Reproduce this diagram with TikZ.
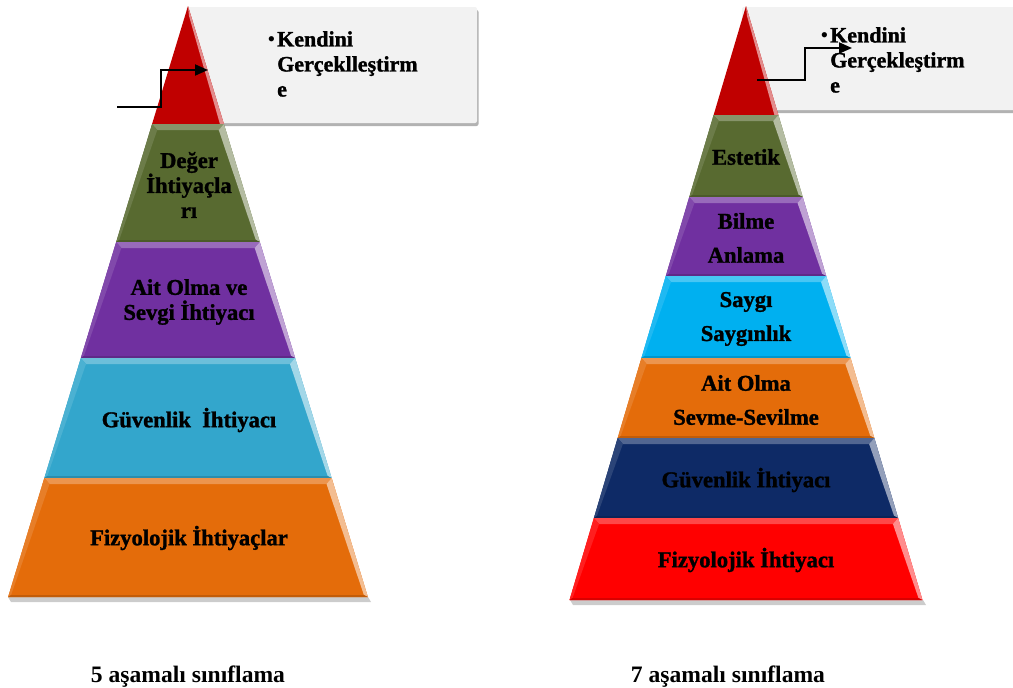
\documentclass[tikz,border=0pt]{standalone}
\usepackage{fontspec}
\setmainfont{Liberation Serif}
\newfontfamily\heavyserif{Liberation Serif}[BoldFeatures={FakeBold=1.3}]
\usetikzlibrary{arrows.meta,shadows}
\definecolor{boxgray}{HTML}{F2F2F2}
\definecolor{cRedTop}{HTML}{C00000}
\definecolor{cOlive}{HTML}{586A30}
\definecolor{cPurple}{HTML}{7030A0}
\definecolor{cTeal}{HTML}{33A6CC}
\definecolor{cOrange}{HTML}{E46C0A}
\definecolor{cCyan}{HTML}{00B0F0}
\definecolor{cNavy}{HTML}{0E2A66}
\definecolor{cRed}{HTML}{FF0000}
\tikzset{
  lbl/.style={font=\heavyserif\bfseries\fontsize{22.6}{25}\selectfont, align=center, text=black, inner sep=0pt},
  lblw/.style={font=\heavyserif\bfseries\fontsize{22.6}{34}\selectfont, align=center, text=black, inner sep=0pt},
  captxt/.style={font=\bfseries\fontsize{23.6}{26}\selectfont, inner sep=0pt, anchor=base},
  calltxt/.style={font=\heavyserif\bfseries\fontsize{22}{25}\selectfont, align=left, anchor=north west, inner sep=0pt},
  callbox/.style={fill=boxgray, rounded corners=2pt, drop shadow={shadow xshift=1.5pt, shadow yshift=-3pt, opacity=0.3, fill=black}},
  conn/.style={line width=1.8pt, -{Triangle[length=13pt,width=11pt]}},
  groundshadow/.style={fill=black, opacity=0.2},
}
% band of a pyramid: centre x, slope, apex y, top y, bottom y, colour
\newcommand{\pband}[6]{%
  \pgfmathsetmacro\pa{#2*(#4-#3)}%
  \pgfmathsetmacro\pb{#2*(#5-#3)}%
  \pgfmathsetmacro\pc{#2*(#4+6-#3)}%
  \fill[#6] ({#1-\pa},#4) -- ({#1+\pa},#4) -- ({#1+\pb},#5) -- ({#1-\pb},#5) -- cycle;
  \fill[#6!72!white] ({#1-\pa},#4) -- ({#1+\pa},#4) -- ({#1+\pc-7},#4+6) -- ({#1-\pc+7},#4+6) -- cycle;
  \fill[#6!88!white] ({#1-\pa},#4) -- ({#1-\pc+7},#4+6) -- ({#1-\pb+3},#5-2) -- ({#1-\pb},#5) -- cycle;
  \fill[#6!45!white] ({#1+\pa},#4) -- ({#1+\pb},#5) -- ({#1+\pb-4},#5-2) -- ({#1+\pc-7},#4+6) -- cycle;
  \fill[#6!85!black] ({#1-\pb},#5) -- ({#1+\pb},#5) -- ({#1+\pb-4},#5-2) -- ({#1-\pb+3},#5-2) -- cycle;
}
% top triangle: centre x, slope, apex y, bottom y, colour
\newcommand{\ptri}[5]{%
  \pgfmathsetmacro\pb{#2*(#4-#3)}%
  \fill[#5] (#1,#3) -- ({#1+\pb},#4) -- ({#1-\pb},#4) -- cycle;
  \fill[#5!45!white] (#1,#3) -- ({#1+\pb},#4) -- ({#1+\pb-4},#4) -- ({#1+1},#3+10) -- cycle;
}
\begin{document}
\begin{tikzpicture}[x=1pt,y=-1pt]
\useasboundingbox (0,0) rectangle (1013,688);
\clip (0,0) rectangle (1013,688);

% callout boxes
\path[callbox] (186,7) rectangle (477,123);
\path[callbox] (742,7) rectangle (1040,110);

% ground shadows
\fill[groundshadow] (8,597) -- (368,597) -- (371,602) -- (11,602) -- cycle;
\fill[groundshadow] (570,600) -- (923,600) -- (926,605) -- (573,605) -- cycle;

% left pyramid (5 levels)
\ptri{188}{0.3044}{6}{124}{cRedTop}
\pband{188}{0.3044}{6}{124}{242}{cOlive}
\pband{188}{0.3044}{6}{242}{358}{cPurple}
\pband{188}{0.3044}{6}{358}{478}{cTeal}
\pband{188}{0.3044}{6}{478}{597}{cOrange}

% right pyramid (7 levels)
\ptri{746}{0.2971}{6}{115}{cRedTop}
\pband{746}{0.2971}{6}{115}{197}{cOlive}
\pband{746}{0.2971}{6}{197}{276}{cPurple}
\pband{746}{0.2971}{6}{276}{358}{cCyan}
\pband{746}{0.2971}{6}{358}{438}{cOrange}
\pband{746}{0.2971}{6}{438}{518}{cNavy}
\pband{746}{0.2971}{6}{518}{600}{cRed}

% labels left
\node[lbl] (l2) at (189,185) {Değer\\İhtiyaçla\\rı};
\node[lbl] (l3) at (189,302) {Ait Olma ve\\Sevgi İhtiyacı};
\node[lbl] (l4) at (189,420) {Güvenlik\ \ İhtiyacı};
\node[lbl] (l5) at (189,538) {Fizyolojik İhtiyaçlar};

% labels right
\node[lbl] (r2) at (746,157) {Estetik};
\node[lblw] (r3) at (746,238) {Bilme\\Anlama};
\node[lblw] (r4) at (746,319) {Saygı\\Saygınlık};
\node[lblw] (r5) at (746,400) {Ait Olma\\Sevme-Sevilme};
\node[lbl] (r6) at (746,480) {Güvenlik İhtiyacı};
\node[lbl] (r7) at (746,560) {Fizyolojik İhtiyacı};

% callout texts
\node[calltxt] (lt) at (277,31) {\llap{\mdseries•\kern2pt}Kendini\\Gerçeklleştirm\\e};
\node[calltxt] (rt) at (830,27) {\llap{\mdseries•\kern2pt}Kendini\\Gerçekleştirm\\e};

% connectors
\coordinate (la0) at (117,107);
\coordinate (lak) at (161,70);
\coordinate (la1) at (208,70);
\draw[conn] (la0) -| (lak) -- (la1);
\coordinate (ra0) at (757,80);
\coordinate (rak) at (805,48);
\coordinate (ra1) at (852,48);
\draw[conn] (ra0) -| (rak) -- (ra1);

% captions
\node[captxt] (c5) at (188,682) {5 aşamalı sınıflama};
\node[captxt] (c7) at (728,682) {7 aşamalı sınıflama};
\end{tikzpicture}
\end{document}
